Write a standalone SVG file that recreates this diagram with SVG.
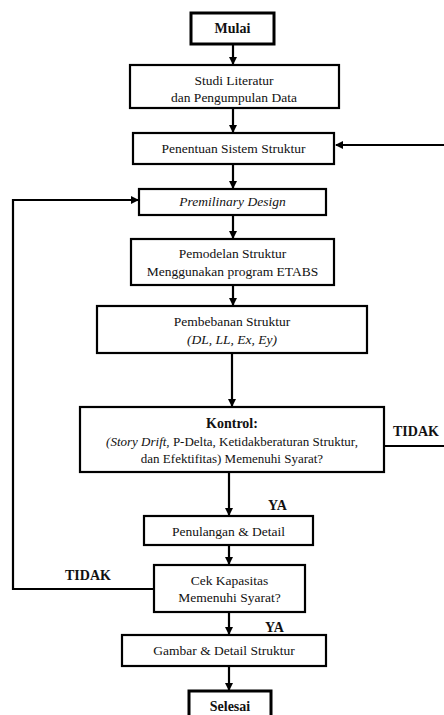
<svg xmlns="http://www.w3.org/2000/svg" width="444" height="715" viewBox="0 0 444 715">
<defs>
<marker id="ah" markerWidth="8" markerHeight="8" refX="7" refY="4" orient="auto" markerUnits="userSpaceOnUse">
<path d="M0,0 L8,4 L0,8 Z" fill="#000"/>
</marker>
<style>
text{font-family:'Liberation Serif','Times New Roman',Tinos,'DejaVu Serif','Noto Serif',serif}
.box{fill:#fff;stroke:#000;stroke-width:2.2}
.term{fill:#fff;stroke:#000;stroke-width:3}
.t{font-size:13.5px;text-anchor:middle;fill:#111}
.s{font-size:13px}
.b{font-weight:bold;font-size:14px}
.i{font-style:italic}
.lbl{font-size:14px;font-weight:bold;fill:#111}
.c{fill:none;stroke:#000;stroke-width:2.2}
</style>
</defs>
<rect width="444" height="715" fill="#fff"/>
<g id="connectors">
<line class="c" x1="233" y1="44" x2="233" y2="64" marker-end="url(#ah)"/>
<line class="c" x1="233" y1="108" x2="233" y2="132" marker-end="url(#ah)"/>
<line class="c" x1="233" y1="164" x2="233" y2="188" marker-end="url(#ah)"/>
<line class="c" x1="233" y1="215" x2="233" y2="238" marker-end="url(#ah)"/>
<line class="c" x1="233" y1="285" x2="233" y2="305" marker-end="url(#ah)"/>
<line class="c" x1="232" y1="353" x2="232" y2="406" marker-end="url(#ah)"/>
<line class="c" x1="229" y1="472" x2="229" y2="515" marker-end="url(#ah)"/>
<line class="c" x1="229" y1="545" x2="229" y2="564" marker-end="url(#ah)"/>
<line class="c" x1="229" y1="612" x2="229" y2="634" marker-end="url(#ah)"/>
<line class="c" x1="229" y1="666" x2="229" y2="690" marker-end="url(#ah)"/>
<polyline class="c" points="384,446 448,446 448,145 336,145" marker-end="url(#ah)"/>
<polyline class="c" points="154,589 13,589 13,200 138,200" marker-end="url(#ah)"/>
<text class="lbl" x="393" y="436">TIDAK</text>
<text class="lbl" x="65" y="580">TIDAK</text>
<text class="lbl" x="268" y="510">YA</text>
<text class="lbl" x="265" y="632">YA</text>
</g>
<g id="mulai">
<rect class="term" x="191" y="13" width="83" height="31"/>
<text class="t b" x="232.5" y="33">Mulai</text>
</g>
<g id="studi">
<rect class="box" x="130" y="65" width="209" height="43"/>
<text class="t" x="234" y="85">Studi Literatur</text>
<text class="t" x="234" y="102">dan Pengumpulan Data</text>
</g>
<g id="penentuan">
<rect class="box" x="133" y="133" width="201" height="31"/>
<text class="t" x="233.5" y="153">Penentuan Sistem Struktur</text>
</g>
<g id="premilinary">
<rect class="box" x="139" y="189" width="187" height="26"/>
<text class="t i" x="232.5" y="206">Premilinary Design</text>
</g>
<g id="pemodelan">
<rect class="box" x="131" y="239" width="203" height="46"/>
<text class="t" x="232.5" y="258">Pemodelan Struktur</text>
<text class="t" x="232.5" y="276">Menggunakan program ETABS</text>
</g>
<g id="pembebanan">
<rect class="box" x="97" y="306" width="270" height="47"/>
<text class="t" x="232" y="326">Pembebanan Struktur</text>
<text class="t i" x="232" y="344">(DL, LL, Ex, Ey)</text>
</g>
<g id="kontrol">
<rect class="box" x="80" y="407" width="304" height="65"/>
<text class="t b" x="232" y="428">Kontrol:</text>
<text class="t s" x="232" y="446"><tspan class="i">(Story Drift,</tspan> P-Delta, Ketidakberaturan Struktur,</text>
<text class="t s" x="232" y="463">dan Efektifitas) Memenuhi Syarat?</text>
</g>
<g id="penulangan">
<rect class="box" x="144" y="516" width="169" height="29"/>
<text class="t" x="228.5" y="536">Penulangan &amp; Detail</text>
</g>
<g id="cek">
<rect class="box" x="154" y="565" width="151" height="47"/>
<text class="t" x="229.5" y="585">Cek Kapasitas</text>
<text class="t" x="229.5" y="602">Memenuhi Syarat?</text>
</g>
<g id="gambar">
<rect class="box" x="122" y="635" width="204" height="31"/>
<text class="t" x="224" y="655">Gambar &amp; Detail Struktur</text>
</g>
<g id="selesai">
<rect class="term" x="189" y="691" width="82" height="34"/>
<text class="t b" x="230" y="711">Selesai</text>
</g>
</svg>
